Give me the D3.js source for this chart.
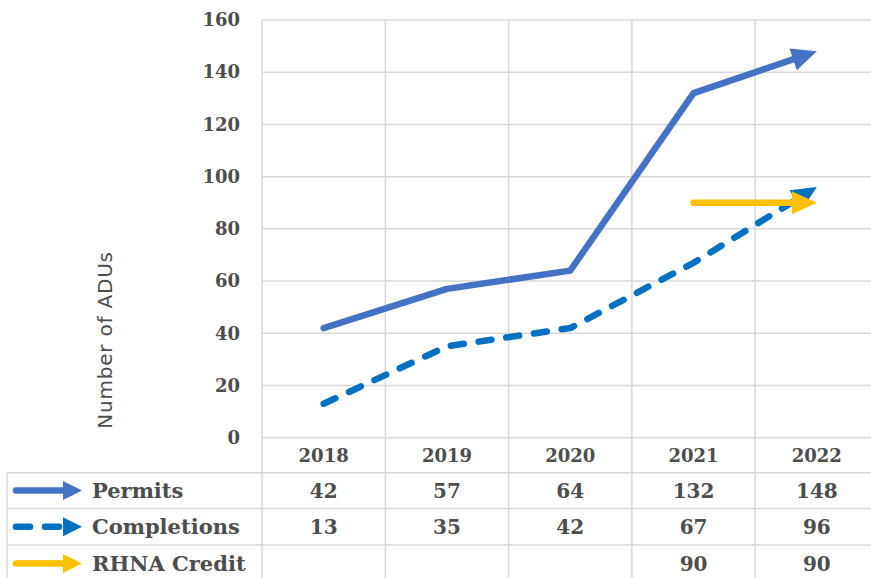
<!DOCTYPE html>
<html>
<head>
<meta charset="utf-8">
<script src="https://cdn.jsdelivr.net/npm/d3@7"></script>
<style>
  body { margin: 0; background: #fff; }
  svg { display: block; }
</style>
</head>
<body>
<div id="chart"></div>
<script>
// data
const years = ["2018", "2019", "2020", "2021", "2022"];
const permits = [42, 57, 64, 132, 148];
const completions = [13, 35, 42, 67, 96];
const rhnaCredit = [null, null, null, 90, 90];
const yTicks = [0, 20, 40, 60, 80, 100, 120, 140, 160];

const series = [
  { name: "Permits", values: permits, color: "#4472C4", dash: null },
  { name: "Completions", values: completions, color: "#0070C0", dash: "13,15" },
  { name: "RHNA Credit", values: rhnaCredit, color: "#FFC000", dash: null }
];

const W = 871, H = 578;
const M = { L: 262, T: 20, R: 878.5, B: 437.7 };
const ROWS = [472.7, 508.5, 545, 582];   // table row boundaries below the header row
const TABLE_L = 7;
const TEXT = "#4d4d4d";
const GRID = "#d9d9d9";
const SERIF = "'DejaVu Serif', 'Liberation Serif', serif";

const svg = d3.select("#chart").append("svg")
  .attr("width", W)
  .attr("height", H);

const x = d3.scaleBand().domain(years).range([M.L, M.R]).padding(0);
const y = d3.scaleLinear().domain([0, 160]).range([M.B, M.T]);
const cx = d => x(d) + x.bandwidth() / 2;

// horizontal gridlines
svg.append("g")
  .selectAll("line")
  .data(yTicks)
  .enter().append("line")
    .attr("x1", M.L).attr("x2", W)
    .attr("y1", d => y(d)).attr("y2", d => y(d))
    .attr("stroke", GRID).attr("stroke-width", 1.5);

// vertical gridlines, running down through the data table
const bounds = years.map(d => x(d)).concat([M.R]);
svg.append("g")
  .selectAll("line")
  .data(bounds)
  .enter().append("line")
    .attr("x1", d => d).attr("x2", d => d)
    .attr("y1", M.T).attr("y2", H)
    .attr("stroke", GRID).attr("stroke-width", 1.5);

// table row lines + left border
svg.append("g")
  .selectAll("line")
  .data(ROWS)
  .enter().append("line")
    .attr("x1", TABLE_L).attr("x2", W)
    .attr("y1", d => d).attr("y2", d => d)
    .attr("stroke", GRID).attr("stroke-width", 1.5);
svg.append("line")
  .attr("x1", TABLE_L).attr("x2", TABLE_L)
  .attr("y1", ROWS[0]).attr("y2", H)
  .attr("stroke", GRID).attr("stroke-width", 1.5);

// y axis labels
const yAxis = d3.axisLeft(y).tickValues(yTicks).tickSize(0).tickPadding(22);
const ya = svg.append("g")
  .attr("transform", "translate(" + M.L + ",0)")
  .call(yAxis);
ya.select(".domain").remove();
ya.selectAll("text")
  .attr("fill", TEXT)
  .style("font-family", SERIF)
  .style("font-weight", "bold")
  .style("font-size", "18px");

// axis title
svg.append("text")
  .attr("transform", "translate(112,340) rotate(-90)")
  .attr("text-anchor", "middle")
  .attr("fill", TEXT)
  .style("font-family", "'DejaVu Sans', sans-serif")
  .style("font-size", "20px")
  .style("letter-spacing", "0.8px")
  .text("Number of ADUs");

// draws a polyline that ends in a filled arrowhead (tip on the last point)
function arrowLine(g, pts, color, dash, lw, headLen, headW) {
  const n = pts.length;
  const a = pts[n - 2], b = pts[n - 1];
  const dx = b[0] - a[0], dy = b[1] - a[1];
  const len = Math.sqrt(dx * dx + dy * dy);
  const ux = dx / len, uy = dy / len;
  const base = [b[0] - ux * headLen, b[1] - uy * headLen];
  const lineEnd = [b[0] - ux * headLen * 0.7, b[1] - uy * headLen * 0.7];
  const linePts = pts.slice(0, n - 1).concat([lineEnd]);

  g.append("path")
    .attr("d", d3.line()(linePts))
    .attr("fill", "none")
    .attr("stroke", color)
    .attr("stroke-width", lw)
    .attr("stroke-linejoin", "round")
    .attr("stroke-linecap", "round")
    .attr("stroke-dasharray", dash);

  const px = -uy * headW / 2, py = ux * headW / 2;
  g.append("path")
    .attr("d", d3.line()([b, [base[0] + px, base[1] + py], [base[0] - px, base[1] - py]]) + "Z")
    .attr("fill", color);
}

// series lines
const lines = svg.append("g");
series.forEach(s => {
  const pts = years
    .map((yr, i) => s.values[i] == null ? null : [cx(yr), y(s.values[i])])
    .filter(p => p);
  arrowLine(lines, pts, s.color, s.dash, 6.5, 25, 23);
});

// table header row (years)
svg.append("g")
  .selectAll("text")
  .data(years)
  .enter().append("text")
    .attr("x", cx)
    .attr("y", (M.B + ROWS[0]) / 2)
    .attr("dy", "0.36em")
    .attr("text-anchor", "middle")
    .attr("fill", TEXT)
    .style("font-family", SERIF)
    .style("font-weight", "bold")
    .style("font-size", "18px")
    .text(d => d);

// table body
series.forEach((s, r) => {
  const rowMid = (ROWS[r] + ROWS[r + 1]) / 2;
  const row = svg.append("g");

  // legend key
  arrowLine(row, [[16, rowMid], [82, rowMid]], s.color, s.dash ? "14,15" : null, 6.5, 19, 19);

  row.append("text")
    .attr("x", 92)
    .attr("y", rowMid)
    .attr("dy", "0.36em")
    .attr("fill", TEXT)
    .style("font-family", SERIF)
    .style("font-weight", "bold")
    .style("font-size", "21px")
    .text(s.name);

  row.selectAll(".val")
    .data(years.map((yr, i) => ({ yr: yr, v: s.values[i] })).filter(d => d.v != null))
    .enter().append("text")
      .attr("class", "val")
      .attr("x", d => cx(d.yr))
      .attr("y", rowMid)
      .attr("dy", "0.36em")
      .attr("text-anchor", "middle")
      .attr("fill", TEXT)
      .style("font-family", SERIF)
      .style("font-weight", "bold")
      .style("font-size", "20px")
      .text(d => d.v);
});
</script>
</body>
</html>
